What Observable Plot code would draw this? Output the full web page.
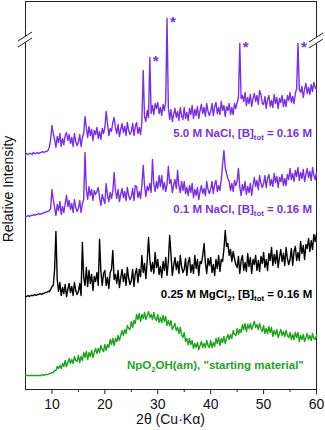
<!DOCTYPE html>
<html>
<head>
<meta charset="utf-8">
<script src="https://cdn.jsdelivr.net/npm/d3@7"></script>
<script src="https://cdn.jsdelivr.net/npm/@observablehq/plot@0.6"></script>
<style>
  html, body { margin: 0; padding: 0; background: #fff; }
  #chart { width: 325px; height: 430px; }
</style>
</head>
<body>
<div id="chart"></div>
<script>
// ---- data (relative intensity, stacked, 2θ grid from 5° in 0.25° steps) ----
const twoThetaStart = 5;
const twoThetaStep = 0.25;

const nacl50 = [
  235,236,235,236,236,235,237,236,236,237,236,237,237,238,237,238,238,239,242,250,
  264,256,250,242,253,247,256,243,251,245,254,257,249,255,246,252,243,256,248,244,
  247,255,243,252,256,273,262,252,263,254,260,249,259,255,262,251,258,250,261,256,
  262,278,266,254,261,258,267,272,262,256,265,253,260,266,257,263,254,267,259,255,
  258,266,254,263,267,256,262,255,268,319,273,268,279,272,332,276,284,275,286,281,
  287,276,282,274,285,279,288,371,282,270,280,268,275,281,272,278,269,282,274,270,
  282,271,277,269,281,275,284,271,280,274,283,271,279,285,276,282,273,286,278,274,
  278,286,274,283,287,276,282,275,288,279,284,273,283,279,286,275,282,275,286,281,
  287,292,346,291,294,288,297,284,292,286,295,283,291,296,288,294,285,299,295,286,
  285,293,281,290,294,283,289,282,295,286,292,281,291,287,294,283,290,283,294,289,
  297,287,293,286,296,301,346,300,297,303,292,300,306,296,302,295,305,298,307,302,
  300
];

const nacl01 = [
  173,173,174,173,174,174,175,174,175,175,176,175,176,176,177,177,178,178,179,181,
  200,190,182,174,185,179,188,175,183,177,186,194,183,189,180,186,177,190,182,178,
  181,189,177,186,190,237,200,190,203,194,200,189,199,195,198,202,192,184,195,190,
  186,206,194,188,197,191,198,217,199,191,200,188,195,201,192,198,189,202,194,190,
  193,201,189,204,203,192,198,191,204,224,204,193,203,199,206,197,230,206,198,208,
  201,214,203,214,200,207,198,205,223,206,210,197,204,210,201,219,203,197,208,199,
  208,196,202,194,204,197,206,192,200,194,202,190,198,204,196,201,194,208,200,196,
  200,208,196,205,209,198,204,199,210,225,239,222,216,211,208,199,206,198,209,204,
  208,221,203,194,205,199,208,195,203,197,206,194,204,212,203,209,200,214,206,202,
  206,214,202,211,215,204,210,203,216,207,213,202,212,208,215,204,211,204,215,210,
  221,210,216,208,219,213,222,209,217,211,220,208,215,221,212,218,209,222,214,210,
  217
];

const mgcl2025 = [
  93,93,94,93,94,94,94,95,94,95,95,96,95,96,96,97,97,98,98,100,
  103,104,120,158,110,98,107,94,102,96,105,93,100,106,97,103,94,107,99,95,
  98,106,94,147,112,104,122,103,119,106,115,99,113,108,117,104,150,118,104,116,
  119,104,112,101,117,120,139,110,115,106,119,102,112,120,108,116,104,122,111,105,
  109,120,103,116,121,107,120,113,134,117,126,111,128,152,130,118,127,116,137,122,
  130,115,123,112,128,119,132,114,128,154,135,114,124,132,120,128,116,134,123,117,
  120,131,114,127,132,117,125,116,134,121,130,114,128,126,134,146,127,116,131,124,
  132,117,125,114,130,121,134,118,130,128,140,159,143,146,134,140,128,138,131,125,
  122,133,116,129,134,119,127,118,136,123,132,116,130,125,134,119,129,118,133,126,
  137,122,130,119,136,129,142,124,135,126,139,122,132,140,128,136,124,142,131,125,
  130,141,124,138,143,129,137,129,148,136,144,130,145,141,151,138,149,140,155,148,
  156
];

const npo2oh = [
  14,14,14,14,14,14,14,14,14,14,14,14,14,15,14,15,15,15,16,16,
  17,17,19,19,23,21,24,21,26,23,29,23,27,31,26,30,26,33,29,28,
  34,27,33,29,37,32,38,30,37,33,39,32,37,41,36,41,37,44,40,38,
  45,39,45,42,50,45,51,44,51,48,54,49,54,59,54,60,56,64,61,60,
  68,62,69,66,75,70,76,68,75,71,77,70,74,78,72,75,70,77,71,69,
  75,67,72,67,74,68,73,64,69,64,69,60,63,66,59,62,56,62,55,52,
  57,48,51,45,51,45,49,41,46,42,47,40,44,48,42,46,42,49,44,42,
  49,42,47,43,51,46,52,44,51,47,53,46,51,55,50,55,51,59,55,54,
  61,55,60,57,65,60,66,58,65,61,66,60,64,68,62,65,60,66,61,58,
  64,56,61,56,63,57,62,53,59,55,60,52,56,60,54,58,53,59,54,52,
  57,50,55,50,57,52,57,48,54,50,55,48,52,56,50,54,49,56,51,50,
  54
];

const seriesValues = [nacl50, nacl01, mgcl2025, npo2oh];
const seriesLabels = [
  "5.0 M NaCl, [B]_{tot} = 0.16 M",
  "0.1 M NaCl, [B]_{tot} = 0.16 M",
  "0.25 M MgCl_{2}, [B]_{tot} = 0.16 M",
  "NpO_{2}OH(am), \"starting material\""
];
const starPeaks = [28.6, 31.8, 45.4, 56.4];   // peaks marked with * in the 5.0 M NaCl pattern
const xTicks = [10, 20, 30, 40, 50, 60];
const xMinorTicks = [15, 25, 35, 45, 55];
const xLabel = "2θ (Cu·Kα)";
const yLabel = "Relative Intensity";

// ---- layout / style (not data) ----
const seriesColors = ["#7a30e0", "#7a30e0", "#000000", "#1fa31f"];
const labelPos = [ {x: 59.25, y: 252}, {x: 59.25, y: 176}, {x: 59.3, y: 91}, {x: 57.7, y: 20} ];
const axisBreaks = [ {x: 5, y: 349}, {x: 60, y: 348} ];
const FONT = "'Liberation Sans', Arial, Helvetica, sans-serif";

// build table
const rows = [];
seriesValues.forEach((vals, s) => {
  vals.forEach((v, i) => rows.push({series: s, x: twoThetaStart + i * twoThetaStep, y: v}));
});
const topRows = rows.filter(d => d.series === 0);
const stars = starPeaks.map(p => {
  const near = topRows.filter(d => Math.abs(d.x - p) <= 0.2);
  const best = near.reduce((a, b) => (b.y > a.y ? b : a));
  return {x: best.x, y: best.y};
});

function richText(g, str, x, y, color, size) {
  const t = g.append("text")
    .attr("x", x).attr("y", y)
    .attr("text-anchor", "end")
    .attr("font-family", FONT)
    .attr("font-weight", "bold")
    .attr("font-size", size)
    .attr("fill", color);
  const parts = str.split(/_\{([^}]*)\}/);
  let shift = 0;
  parts.forEach((p, i) => {
    if (p === "") return;
    const sub = i % 2 === 1;
    const ts = t.append("tspan").text(p);
    if (sub) { ts.attr("font-size", size * 0.68).attr("dy", 3 - shift); shift = 3; }
    else { ts.attr("dy", -shift); shift = 0; }
  });
}

const chart = Plot.plot({
  width: 325,
  height: 430,
  marginLeft: 25,
  marginRight: 9,
  marginTop: 1,
  marginBottom: 41,
  style: {fontFamily: FONT, background: "white"},
  x: {domain: [5, 60], label: null},
  y: {domain: [0, 388], axis: null, label: null},
  marks: [
    Plot.frame({stroke: "#222", strokeWidth: 1}),
    ...seriesValues.map((_, s) =>
      Plot.lineY(rows.filter(d => d.series === s), {x: "x", y: "y", stroke: seriesColors[s], strokeWidth: 1.4})
    ),
    Plot.axisX({ticks: xTicks, tickSize: 5, tickPadding: 5, fontSize: 14, label: null, stroke: "#222", color: "#111"}),
    Plot.axisX({ticks: xMinorTicks, tickSize: 3, tickFormat: () => "", label: null, stroke: "#222"}),
    Plot.text(stars, {x: "x", y: "y", text: () => "*", fill: seriesColors[0], fontSize: 15, fontWeight: "bold", textAnchor: "start", dx: 3, dy: 4}),
    (index, scales, values, dims) => {
      const g = d3.create("svg:g");
      const sx = scales.x, sy = scales.y;
      // axis breaks
      for (const b of axisBreaks) {
        const px = sx(b.x), py = sy(b.y);
        g.append("path")
          .attr("d", `M${px-7},${py+7}L${px+7},${py-2}L${px+7},${py-8}L${px-7},${py+1}Z`)
          .attr("fill", "white");
        g.append("path")
          .attr("d", `M${px-7},${py+7}L${px+7},${py-2}M${px-7},${py+1}L${px+7},${py-8}`)
          .attr("stroke", "#222").attr("stroke-width", 1).attr("fill", "none");
      }
      // series labels
      seriesLabels.forEach((lab, s) => {
        richText(g, lab, sx(labelPos[s].x), sy(labelPos[s].y), seriesColors[s], 11.5);
      });
      // axis titles
      const x0 = sx(5), x1 = sx(60), yb = sy(0), yt = sy(388);
      g.append("text")
        .attr("x", (x0 + x1) / 2).attr("y", yb + 35)
        .attr("text-anchor", "middle")
        .attr("font-family", FONT).attr("font-size", 14).attr("fill", "#111")
        .text(xLabel);
      g.append("text")
        .attr("transform", `translate(${x0 - 12},${(yb + yt) / 2 - 6}) rotate(-90)`)
        .attr("text-anchor", "middle")
        .attr("font-family", FONT).attr("font-size", 14).attr("fill", "#111")
        .text(yLabel);
      return g.node();
    }
  ]
});

document.getElementById("chart").appendChild(chart);
</script>
</body>
</html>
